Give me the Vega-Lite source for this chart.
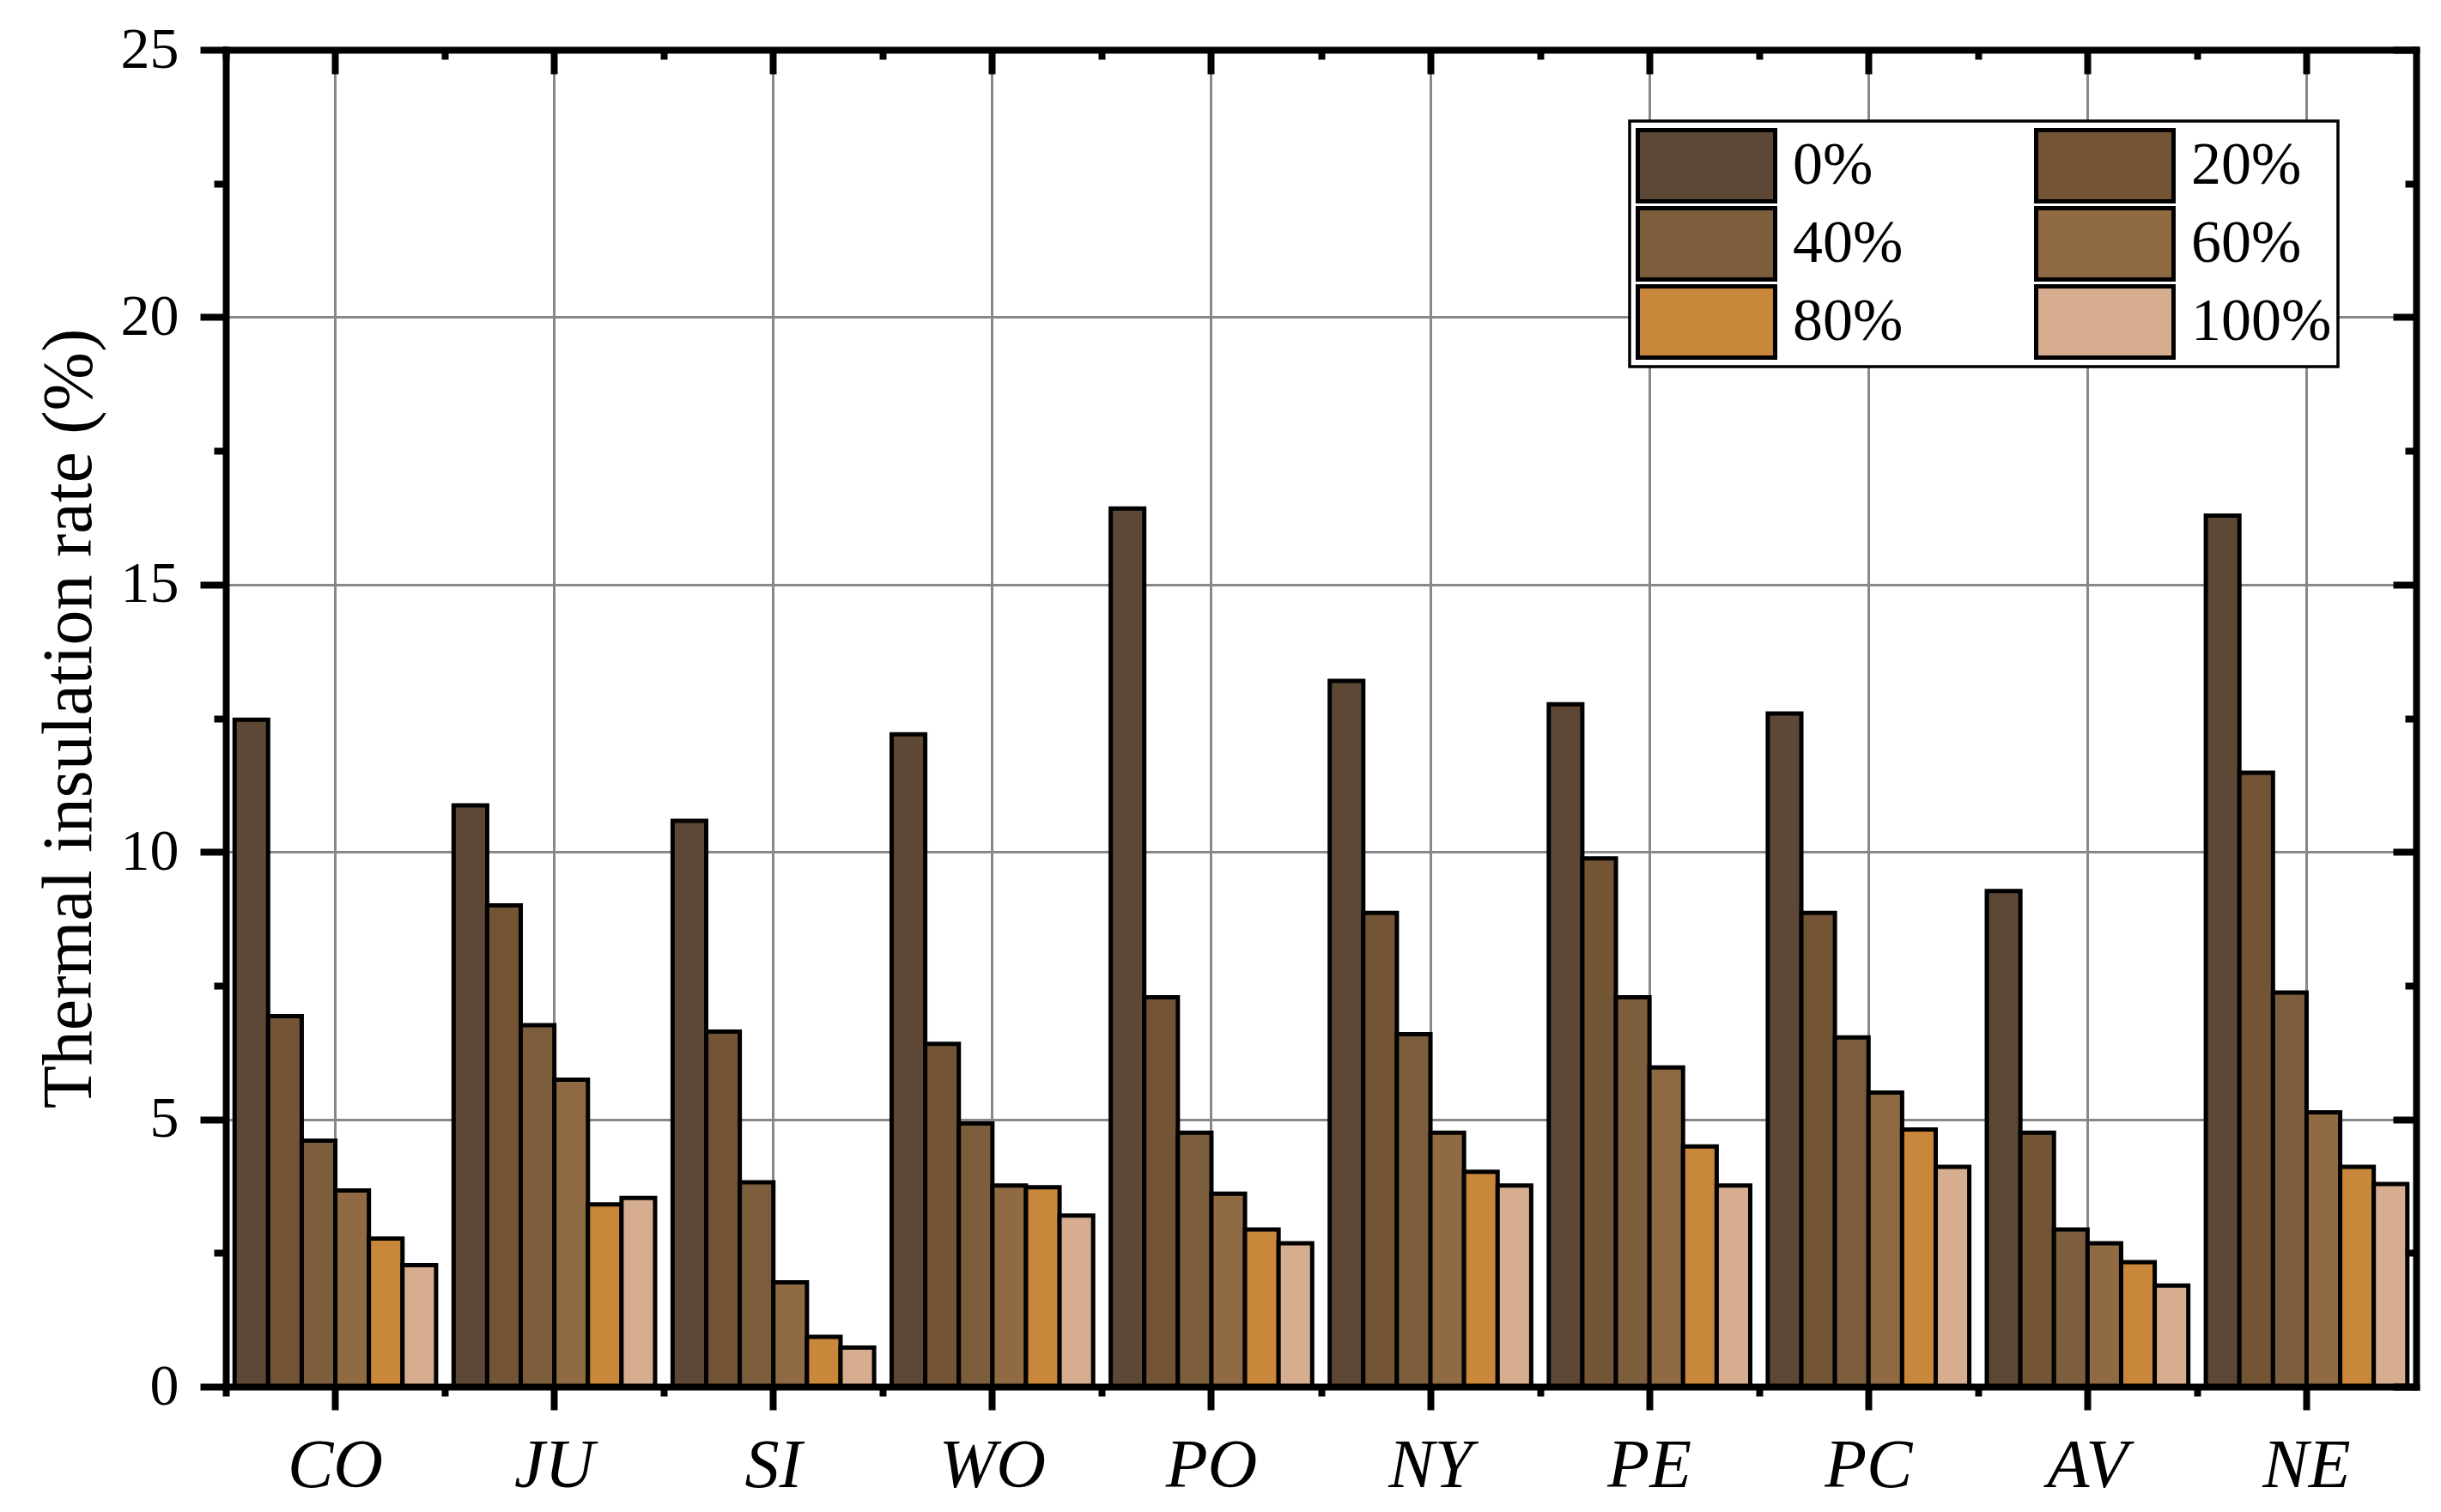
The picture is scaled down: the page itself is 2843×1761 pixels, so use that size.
{
  "$schema": "https://vega.github.io/schema/vega-lite/v6.json",
  "width": 2551,
  "height": 1557,
  "autosize": {"type": "none"},
  "padding": {"left": 263, "top": 58, "right": 29, "bottom": 146},
  "background": "white",
  "data": {
    "values": [
      {"site": "CO", "level": "0%", "value": 12.47}, {"site": "CO", "level": "20%", "value": 6.93}, {"site": "CO", "level": "40%", "value": 4.60}, {"site": "CO", "level": "60%", "value": 3.67}, {"site": "CO", "level": "80%", "value": 2.77}, {"site": "CO", "level": "100%", "value": 2.27},
      {"site": "JU", "level": "0%", "value": 10.87}, {"site": "JU", "level": "20%", "value": 9.00}, {"site": "JU", "level": "40%", "value": 6.76}, {"site": "JU", "level": "60%", "value": 5.74}, {"site": "JU", "level": "80%", "value": 3.41}, {"site": "JU", "level": "100%", "value": 3.53},
      {"site": "SI", "level": "0%", "value": 10.58}, {"site": "SI", "level": "20%", "value": 6.64}, {"site": "SI", "level": "40%", "value": 3.82}, {"site": "SI", "level": "60%", "value": 1.95}, {"site": "SI", "level": "80%", "value": 0.93}, {"site": "SI", "level": "100%", "value": 0.73},
      {"site": "WO", "level": "0%", "value": 12.20}, {"site": "WO", "level": "20%", "value": 6.41}, {"site": "WO", "level": "40%", "value": 4.92}, {"site": "WO", "level": "60%", "value": 3.76}, {"site": "WO", "level": "80%", "value": 3.73}, {"site": "WO", "level": "100%", "value": 3.20},
      {"site": "PO", "level": "0%", "value": 16.42}, {"site": "PO", "level": "20%", "value": 7.28}, {"site": "PO", "level": "40%", "value": 4.75}, {"site": "PO", "level": "60%", "value": 3.61}, {"site": "PO", "level": "80%", "value": 2.94}, {"site": "PO", "level": "100%", "value": 2.68},
      {"site": "NY", "level": "0%", "value": 13.20}, {"site": "NY", "level": "20%", "value": 8.86}, {"site": "NY", "level": "40%", "value": 6.59}, {"site": "NY", "level": "60%", "value": 4.75}, {"site": "NY", "level": "80%", "value": 4.02}, {"site": "NY", "level": "100%", "value": 3.76},
      {"site": "PE", "level": "0%", "value": 12.76}, {"site": "PE", "level": "20%", "value": 9.88}, {"site": "PE", "level": "40%", "value": 7.28}, {"site": "PE", "level": "60%", "value": 5.97}, {"site": "PE", "level": "80%", "value": 4.49}, {"site": "PE", "level": "100%", "value": 3.76},
      {"site": "PC", "level": "0%", "value": 12.59}, {"site": "PC", "level": "20%", "value": 8.86}, {"site": "PC", "level": "40%", "value": 6.53}, {"site": "PC", "level": "60%", "value": 5.50}, {"site": "PC", "level": "80%", "value": 4.81}, {"site": "PC", "level": "100%", "value": 4.11},
      {"site": "AV", "level": "0%", "value": 9.27}, {"site": "AV", "level": "20%", "value": 4.75}, {"site": "AV", "level": "40%", "value": 2.94}, {"site": "AV", "level": "60%", "value": 2.68}, {"site": "AV", "level": "80%", "value": 2.33}, {"site": "AV", "level": "100%", "value": 1.89},
      {"site": "NE", "level": "0%", "value": 16.29}, {"site": "NE", "level": "20%", "value": 11.48}, {"site": "NE", "level": "40%", "value": 7.37}, {"site": "NE", "level": "60%", "value": 5.13}, {"site": "NE", "level": "80%", "value": 4.11}, {"site": "NE", "level": "100%", "value": 3.79}
    ]
  },
  "resolve": {"axis": {"x": "independent", "y": "independent"}},
  "layer": [
    {
      "mark": {"type": "bar", "opacity": 0},
      "encoding": {
        "x": {"field": "site", "type": "nominal", "sort": null,
          "scale": {"domain": ["CO","JU","SI","WO","PO","NY","PE","PC","AV","NE"], "paddingInner": 0.08, "paddingOuter": 0.04},
          "axis": {"orient": "bottom", "grid": true, "gridColor": "#888888", "gridWidth": 3, "ticks": false, "labels": false, "domain": false, "title": null, "bandPosition": 0.5, "zindex": 0}},
        "y": {"field": "value", "type": "quantitative",
          "scale": {"domain": [0, 25], "nice": false, "zero": true},
          "axis": {"orient": "left", "values": [5, 10, 15, 20], "grid": true, "gridColor": "#888888", "gridWidth": 3, "ticks": false, "labels": false, "domain": false, "title": null, "zindex": 0}}
      }
    },
    {
      "mark": {"type": "bar", "stroke": "black", "strokeWidth": 5, "opacity": 1},
      "encoding": {
        "x": {"field": "site", "type": "nominal", "sort": null,
          "scale": {"domain": ["CO","JU","SI","WO","PO","NY","PE","PC","AV","NE"], "paddingInner": 0.08, "paddingOuter": 0.04},
          "axis": {"orient": "bottom", "title": null, "grid": false, "bandPosition": 0.5, "labelAngle": 0,
            "labelFont": "Liberation Serif", "labelFontStyle": "italic", "labelFontSize": 80, "labelColor": "black", "labelPadding": 26,
            "ticks": true, "tickSize": 27, "tickWidth": 8, "tickColor": "black",
            "domain": true, "domainColor": "black", "domainWidth": 8, "domainCap": "square", "zindex": 1}},
        "xOffset": {"field": "level", "type": "nominal", "sort": null,
          "scale": {"domain": ["0%","20%","40%","60%","80%","100%"], "paddingInner": 0, "paddingOuter": 0}},
        "y": {"field": "value", "type": "quantitative",
          "scale": {"domain": [0, 25], "nice": false, "zero": true},
          "axis": {"orient": "left", "values": [0, 5, 10, 15, 20, 25], "grid": false,
            "title": "Thermal insulation rate (%)", "titleFont": "Liberation Serif", "titleFontSize": 82, "titleFontWeight": "normal", "titleColor": "black", "titlePadding": 18,
            "labelFont": "Liberation Serif", "labelFontSize": 68, "labelColor": "black", "labelPadding": 25,
            "ticks": true, "tickSize": 30, "tickWidth": 8, "tickColor": "black",
            "domain": true, "domainColor": "black", "domainWidth": 8, "domainCap": "square", "zindex": 1}},
        "color": {"field": "level", "type": "nominal", "sort": null,
          "scale": {"domain": ["0%","20%","40%","60%","80%","100%"], "range": ["#5C4835","#735435","#7C5E3C","#8F6A42","#C8873B","#D6AD8F"]},
          "legend": {"title": null, "direction": "horizontal"}}
      }
    },
    {
      "mark": {"type": "bar", "opacity": 0},
      "encoding": {
        "x": {"field": "site", "type": "nominal", "sort": null,
          "scale": {"domain": ["CO","JU","SI","WO","PO","NY","PE","PC","AV","NE"], "paddingInner": 0.08, "paddingOuter": 0.04},
          "axis": {"orient": "bottom", "title": null, "grid": false, "labels": false, "domain": false, "bandPosition": 0, "tickOffset": -10.2,
            "ticks": true, "tickSize": 11, "tickWidth": 8, "tickColor": "black", "zindex": 1}},
        "y": {"field": "value", "type": "quantitative",
          "scale": {"domain": [0, 25], "nice": false, "zero": true},
          "axis": {"orient": "left", "values": [2.5, 7.5, 12.5, 17.5, 22.5], "title": null, "grid": false, "labels": false, "domain": false,
            "ticks": true, "tickSize": 14, "tickWidth": 8, "tickColor": "black", "zindex": 1}}
      }
    },
    {
      "mark": {"type": "bar", "opacity": 0},
      "encoding": {
        "x": {"field": "site", "type": "nominal", "sort": null,
          "scale": {"domain": ["CO","JU","SI","WO","PO","NY","PE","PC","AV","NE"], "paddingInner": 0.08, "paddingOuter": 0.04},
          "axis": {"orient": "top", "title": null, "grid": false, "labels": false, "bandPosition": 0.5,
            "ticks": true, "tickSize": -28, "tickWidth": 8, "tickColor": "black",
            "domain": true, "domainColor": "black", "domainWidth": 8, "domainCap": "square", "zindex": 1}},
        "y": {"field": "value", "type": "quantitative",
          "scale": {"domain": [0, 25], "nice": false, "zero": true},
          "axis": {"orient": "right", "values": [0, 5, 10, 15, 20, 25], "title": null, "grid": false, "labels": false,
            "ticks": true, "tickSize": -27, "tickWidth": 8, "tickColor": "black",
            "domain": true, "domainColor": "black", "domainWidth": 8, "domainCap": "square", "zindex": 1}}
      }
    },
    {
      "mark": {"type": "bar", "opacity": 0},
      "encoding": {
        "x": {"field": "site", "type": "nominal", "sort": null,
          "scale": {"domain": ["CO","JU","SI","WO","PO","NY","PE","PC","AV","NE"], "paddingInner": 0.08, "paddingOuter": 0.04},
          "axis": {"orient": "top", "title": null, "grid": false, "labels": false, "domain": false, "bandPosition": 0, "tickOffset": -10.2,
            "ticks": true, "tickSize": -11, "tickWidth": 8, "tickColor": "black", "zindex": 1}},
        "y": {"field": "value", "type": "quantitative",
          "scale": {"domain": [0, 25], "nice": false, "zero": true},
          "axis": {"orient": "right", "values": [2.5, 7.5, 12.5, 17.5, 22.5], "title": null, "grid": false, "labels": false, "domain": false,
            "ticks": true, "tickSize": -13, "tickWidth": 8, "tickColor": "black", "zindex": 1}}
      }
    }
  ],
  "config": {
    "view": {"stroke": null},
    "legend": {
      "orient": "none", "legendX": 1635, "legendY": 83, "columns": 2, "direction": "horizontal",
      "fillColor": "white", "strokeColor": "black", "strokeWidth": 3.5, "padding": 7,
      "symbolType": "M-1,-0.52H1V0.52H-1Z", "symbolSize": 25600,
      "symbolStrokeColor": "black", "symbolStrokeWidth": 5, "symbolOpacity": 1,
      "clipHeight": 90, "rowPadding": 1, "columnPadding": 152, "labelOffset": 18,
      "labelFont": "Liberation Serif", "labelFontSize": 70, "labelColor": "black", "labelLimit": 400
    }
  }
}
